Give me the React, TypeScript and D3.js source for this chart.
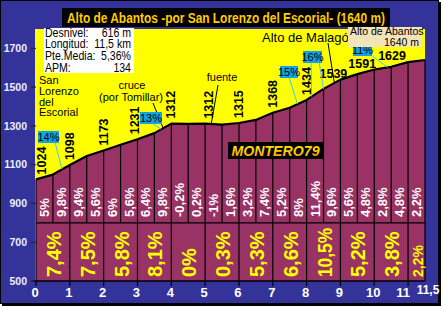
import React from "react";
import * as d3 from "d3";

// ---- data ----
const distances = [0, 0.5, 1, 1.5, 2, 2.5, 3, 3.5, 4, 4.5, 5, 5.5, 6, 6.5, 7, 7.5, 8, 8.5, 9, 9.5, 10, 10.5, 11, 11.5];
const elevations = [1024, 1049, 1098, 1145, 1173, 1203, 1231, 1263, 1312, 1311, 1312, 1307, 1315, 1331, 1368, 1394, 1434, 1491, 1539, 1567, 1591, 1605, 1629, 1640];
const halfKmGrades = [5, 9.8, 9.4, 5.6, 6, 5.6, 6.4, 9.8, -0.2, 0.2, -1, 1.6, 3.2, 7.4, 5.2, 8, 11.4, 9.6, 5.6, 4.8, 2.8, 4.8, 2.2];
const kmStarts = [0, 1, 2, 3, 4, 5, 6, 7, 8, 9, 10, 11];
const kmEnds = [1, 2, 3, 4, 5, 6, 7, 8, 9, 10, 11, 11.5];
const kmGrades = [7.4, 7.5, 5.8, 8.1, 0, 0.3, 5.3, 6.6, 10.5, 5.2, 3.8, 2.2];
const labelKms = [0, 1, 2, 3, 4, 5, 6, 7, 8, 9, 10, 11];
const labelElevations = [1024, 1098, 1173, 1231, 1312, 1312, 1315, 1368, 1434, 1539, 1591, 1629];
const yTicks = [500, 700, 900, 1100, 1300, 1500, 1700];
const xTicks = [0, 1, 2, 3, 4, 5, 6, 7, 8, 9, 10, 11];
const xTickLabels = ["0", "1", "2", "3", "4", "5", "6", "7", "8", "9", "10", "11"];
const infoLabels = ["Desnivel:", "Longitud:", "Pte.Media:", "APM:"];
const infoValues = ["616 m", "11,5 km", "5,36%", "134"];
const title = "Alto de Abantos -por San Lorenzo del Escorial- (1640 m)";

const FONT = "'Liberation Sans', Arial, sans-serif";
const BLUE = "#333399";
const PURPLE = "#993366";
const YELLOW = "#ffff00";
const CALLOUT = "#12a2e6";
const CALLOUT_LINE = "#33ccff";

const fmt = (n: number) => String(n).replace(".", ",") + "%";

export default function App() {
  const x = d3.scaleLinear().domain([0, 11.5]).range([36, 425]);
  const y = d3.scaleLinear().domain([500, 1800]).range([281, 29]);
  const elevAt = d3.scaleLinear().domain(distances).range(elevations);
  const px = (km: number) => x(km);
  const py = (km: number) => y(elevAt(km));

  const pts = distances.map((d, i) => [d, elevations[i]] as [number, number]);
  const area = d3.area<[number, number]>().x((d) => x(d[0])).y0(y(500)).y1((d) => y(d[1]))(pts) || "";
  const line = d3.line<[number, number]>().x((d) => x(d[0])).y((d) => y(d[1]))(pts) || "";

  const rotOffsets: Record<number, number> = { 0: 6, 5: 4, 3: -2 };
  const horizOffsets: Record<number, number> = { 9: -7, 10: -12, 11: -16 };

  const callouts = [
    { text: "14%", bx: 38, by: 131, w: 21, from: [[55, 142]], to: [0.77] },
    { text: "13%", bx: 140, by: 112, w: 22, from: [[152, 123]], to: [3.7] },
    { text: "15%", bx: 280, by: 66, w: 18, from: [[289, 77]], to: [7.73] },
    { text: "16%", bx: 303, by: 51, w: 19, from: [[311, 62], [319, 62]], to: [8.15, 8.5] },
    { text: "11%", bx: 353, by: 44, w: 19, from: [[371, 55]], to: [10.4] },
  ];
  const leaders = [
    { from: [153, 103], to: 3.76 },
    { from: [218, 85], to: 5.18 },
    { from: [328, 43], to: 8.82 },
  ];

  return (
    <svg
      width={443}
      height={309}
      style={{ position: "fixed", left: 0, top: 0, background: "#fff" }}
      fontFamily={FONT}
    >
      <defs>
        <linearGradient id="logoGrad" x1="0" y1="0" x2="0" y2="1">
          <stop offset="0" stopColor="#ffee00" />
          <stop offset="0.55" stopColor="#ffcc00" />
          <stop offset="1" stopColor="#ff8800" />
        </linearGradient>
      </defs>
      {/* frame */}
      <rect x={2} y={2} width={439} height={304} fill="#000" />
      <rect x={0.5} y={0.5} width={438} height={303} fill={BLUE} stroke="#000" strokeWidth={1} />

      {/* plot bg */}
      <rect x={x(0) - 1} y={y(1800)} width={x(11.5) - x(0) + 1} height={y(500) - y(1800)} fill={YELLOW} />

      {/* profile area */}
      <path d={area} fill={PURPLE} />

      {/* grid lines inside area */}
      <line x1={x(0)} x2={x(11.5)} y1={y(800)} y2={y(800)} stroke="#000" strokeWidth={1.2} />
      {distances.map((d, i) => (
        <line key={"v" + i} x1={x(d)} x2={x(d)} y1={y(800)} y2={y(elevations[i])} stroke="#000" strokeWidth={1.2} />
      ))}
      {[...xTicks, 11.5].map((d) => (
        <line key={"k" + d} x1={x(d)} x2={x(d)} y1={y(500) + (d === 11.5 ? 0 : 5)} y2={y(800)} stroke="#000" strokeWidth={1.2} />
      ))}
      <line x1={x(0) - 3} x2={x(11.5)} y1={y(500)} y2={y(500)} stroke="#000" strokeWidth={1.5} />
      {yTicks.map((t) => (
        <line key={"yt" + t} x1={x(0) - 5} x2={x(0)} y1={y(t)} y2={y(t)} stroke="#222" strokeWidth={1} />
      ))}

      {/* profile line */}
      <path d={line} fill="none" stroke="#000" strokeWidth={2.2} strokeLinejoin="round" />

      {/* axis labels */}
      {yTicks.map((t) => (
        <text key={"yl" + t} x={27} y={y(t)} dy="0.35em" textAnchor="end" fill="#eef" fontSize={10.5} fontWeight="bold">
          {t}
        </text>
      ))}
      {xTicks.map((t, i) => (
        <text key={"xl" + t} x={x(t) - (t === 11 ? 5 : 1)} y={297} textAnchor="middle" fill="#fff" fontSize={13} fontWeight="bold">
          {xTickLabels[i]}
        </text>
      ))}
      <text x={x(11.5) + 3} y={294} textAnchor="middle" fill="#fff" fontSize={12} fontWeight="bold">
        11,5
      </text>

      {/* half-km grades */}
      {halfKmGrades.map((g, i) => {
        const cx = (x(distances[i]) + x(distances[i + 1])) / 2;
        return (
          <text
            key={"hg" + i}
            transform={`translate(${cx},${217}) rotate(-90)`}
            dominantBaseline="central"
            fill="#fff"
            fontSize={13}
            fontWeight="bold"
          >
            {fmt(g)}
          </text>
        );
      })}

      {/* km grades */}
      {kmGrades.map((g, i) => {
        const cx = (x(kmStarts[i]) + x(kmEnds[i])) / 2 + 1;
        const last = kmEnds[i] - kmStarts[i] < 1;
        const long = fmt(g).length > 4;
        return (
          <text
            key={"kg" + i}
            transform={`translate(${cx},${277}) rotate(-90)`}
            dominantBaseline="central"
            fill={YELLOW}
            fontSize={last ? 14 : 20}
            fontWeight="bold"
            textLength={long ? 49 : undefined}
            lengthAdjust={long ? "spacingAndGlyphs" : undefined}
          >
            {fmt(g)}
          </text>
        );
      })}

      {/* elevation labels */}
      {labelKms.map((k, i) => {
        if (k >= 9) {
          return (
            <text key={"el" + i} x={x(k) + horizOffsets[k]} y={y(labelElevations[i]) - 2} textAnchor="middle" fontSize={12.5} fontWeight="bold" fill="#000">
              {labelElevations[i]}
            </text>
          );
        }
        return (
          <text
            key={"el" + i}
            transform={`translate(${x(k) + (rotOffsets[k] || 0)},${y(labelElevations[i]) - 5}) rotate(-90)`}
            dominantBaseline="central"
            fontSize={12.5}
            fontWeight="bold"
            fill="#000"
          >
            {labelElevations[i]}
          </text>
        );
      })}

      {/* black leaders */}
      {leaders.map((l, i) => (
        <line key={"ld" + i} x1={l.from[0]} y1={l.from[1]} x2={px(l.to)} y2={py(l.to)} stroke="#000" strokeWidth={1} />
      ))}

      {/* callouts */}
      {callouts.map((c, i) => (
        <g key={"co" + i}>
          {c.from.map((f, j) => (
            <line key={j} x1={f[0]} y1={f[1]} x2={px(c.to[j])} y2={py(c.to[j])} stroke={CALLOUT_LINE} strokeWidth={1} />
          ))}
          <rect x={c.bx} y={c.by} width={c.w} height={12} fill={CALLOUT} />
          <text x={c.bx + c.w / 2} y={c.by + 10} textAnchor="middle" fontSize={11} fill="#000">
            {c.text}
          </text>
        </g>
      ))}

      {/* text annotations */}
      {["San", "Lorenzo", "del", "Escorial"].map((t, i) => (
        <text key={"sl" + i} x={39} y={84 + i * 10.8} fontSize={11} fill="#000">
          {t}
        </text>
      ))}
      <text x={132} y={89} textAnchor="middle" fontSize={11} fill="#000">cruce</text>
      <text x={131} y={101} textAnchor="middle" fontSize={11} fill="#000">(por Tomillar)</text>
      <text x={222} y={81} textAnchor="middle" fontSize={11} fill="#000">fuente</text>
      <text x={262} y={42} fontSize={13} fill="#000">Alto de Malagón</text>

      {/* Alto de Abantos box */}
      <rect x={348} y={27} width={74} height={20} fill="#f2e4b8" />
      <text x={350} y={35} fontSize={10.5} fill="#000">Alto de Abantos</text>
      <text x={419} y={46} textAnchor="end" fontSize={10.5} fill="#000">1640 m</text>

      {/* info box */}
      <rect x={44} y={28} width={90} height={45} fill="#fff" />
      {infoLabels.map((t, i) => (
        <g key={"ib" + i} transform={`translate(0,${36.5 + i * 11.7})`}>
          <text transform="translate(45,0) scale(0.88,1)" fontSize={12} fill="#000">{t}</text>
          <text transform="translate(131,0) scale(0.88,1)" fontSize={12} fill="#000" textAnchor="end">{infoValues[i]}</text>
        </g>
      ))}

      {/* logo */}
      <rect x={228} y={142} width={95} height={17} fill="#000" />
      <text x={275.5} y={156} textAnchor="middle" fontSize={15} fontWeight="bold" fontStyle="italic" fill="url(#logoGrad)" textLength={88} lengthAdjust="spacingAndGlyphs">
        MONTERO79
      </text>

      {/* title */}
      <rect x={62} y={8} width={328} height={19} fill="#000" />
      <text x={226} y={22.5} textAnchor="middle" fontSize={14} fontWeight="bold" fill="#ffcc00" textLength={318} lengthAdjust="spacingAndGlyphs">
        {title}
      </text>
    </svg>
  );
}
